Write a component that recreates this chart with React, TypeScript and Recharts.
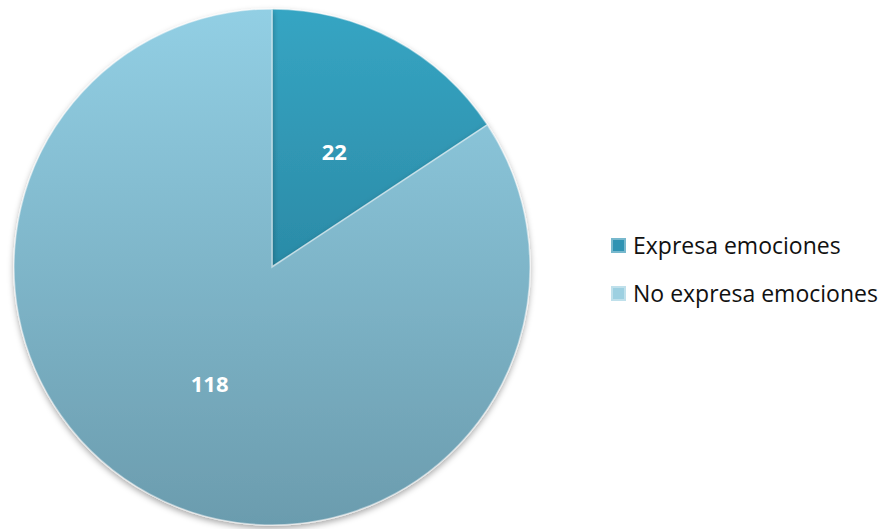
import { PieChart, Pie, Cell, Legend } from "recharts"

const categories = ["Expresa emociones", "No expresa emociones"]
const counts = [22, 118]

const fills = [
  { id: "sliceDark", top: "#36a5c3", bottom: "#2b8ba7", swatch: "#2f93b3" },
  { id: "sliceLight", top: "#92cfe4", bottom: "#6b9cae", swatch: "#9dd0e1" },
]

const data = categories.map((name, i) => ({ name, value: counts[i] }))

const RADIAN = Math.PI / 180

function renderLabel(props: any) {
  const { cx, cy, midAngle, outerRadius, value } = props
  const r = outerRadius * 0.51
  const x = cx + r * Math.cos(-midAngle * RADIAN)
  const y = cy + r * Math.sin(-midAngle * RADIAN)
  return (
    <text
      x={x}
      y={y}
      fill="#ffffff"
      textAnchor="middle"
      dominantBaseline="central"
      fontFamily="'Open Sans', sans-serif"
      fontWeight={700}
      fontSize={22}
    >
      {value}
    </text>
  )
}

function LegendBox() {
  return (
    <div style={{ fontFamily: "'Open Sans', sans-serif", fontSize: 23, color: "#111" }}>
      {categories.map((name, i) => (
        <div key={name} style={{ display: "flex", alignItems: "center", height: 48 }}>
          <span
            style={{
              display: "inline-block",
              width: 15,
              height: 15,
              marginRight: 7,
              background: fills[i].swatch,
              boxShadow: "inset 0 0 0 2px rgba(255,255,255,0.35)",
            }}
          />
          <span>{name}</span>
        </div>
      ))}
    </div>
  )
}

export default function App() {
  return (
    <div style={{ position: "absolute", left: 0, top: 0, width: 883, height: 529, background: "#fff" }}>
      <PieChart width={883} height={529} margin={{ top: 0, right: 0, bottom: 0, left: 0 }}>
        <defs>
          {fills.map((f) => (
            <linearGradient key={f.id} id={f.id} x1="0" y1="0" x2="0" y2="1">
              <stop offset="0%" stopColor={f.top} />
              <stop offset="100%" stopColor={f.bottom} />
            </linearGradient>
          ))}
          <filter id="pieShadow" x="-10%" y="-10%" width="120%" height="125%">
            <feDropShadow dx="0" dy="3" stdDeviation="3" floodColor="#000" floodOpacity="0.35" />
          </filter>
        </defs>
        <Pie
          data={data}
          dataKey="value"
          nameKey="name"
          cx={272}
          cy={267}
          outerRadius={258}
          startAngle={90}
          endAngle={-270}
          stroke="rgba(255,255,255,0.45)"
          strokeWidth={1.5}
          label={renderLabel}
          labelLine={false}
          isAnimationActive={false}
          style={{ filter: "url(#pieShadow)" }}
        >
          {data.map((d, i) => (
            <Cell key={d.name} fill={`url(#${fills[i].id})`} />
          ))}
        </Pie>
        <Legend
          layout="vertical"
          align="right"
          verticalAlign="top"
          content={() => <LegendBox />}
          wrapperStyle={{ left: 611, top: 221, width: 272 }}
        />
      </PieChart>
    </div>
  )
}
